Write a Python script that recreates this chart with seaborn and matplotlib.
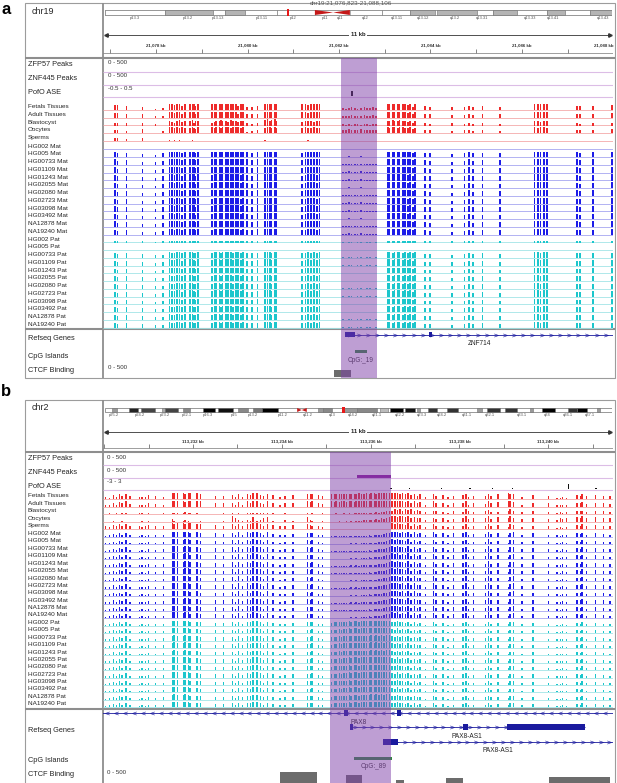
import numpy as np
import matplotlib
matplotlib.use("Agg")
import matplotlib.pyplot as plt
from matplotlib.patches import Rectangle
import seaborn as sns

W, H = 617, 783

# =========================
# SHARED TRACK NAMES
# =========================

SAMPLES = ["HG002", "HG005", "HG00733", "HG01109", "HG01243", "HG02055",
           "HG02080", "HG02723", "HG03098", "HG03492", "NA12878", "NA19240"]
TISSUE_NAMES = ["Fetals Tissues", "Adult Tissues", "Blastocyst", "Oocytes", "Sperms"]
PEAK_NAMES = ["ZFP57 Peaks", "ZNF445 Peaks", "PofO ASE"]

# =========================
# PANEL A DATA (chr19)
# =========================

A_CHROM = "chr19"
A_LOCUS = "chr19:21,076,823-21,088,106"
A_VIEW = [21076.84, 21087.99]
A_HIGHLIGHT = [21082.04, 21082.83]
A_RANGES = ["0 - 500", "0 - 500", "-0.5 - 0.5"]

A_BAND_START = [0.0, 0.118, 0.213, 0.237, 0.276, 0.339, 0.483, 0.546, 0.602, 0.655,
                0.734, 0.765, 0.813, 0.872, 0.907, 0.957]
A_BAND_END = [0.118, 0.213, 0.237, 0.276, 0.339, 0.414, 0.546, 0.602, 0.651, 0.734,
              0.765, 0.813, 0.872, 0.907, 0.957, 1.0]
A_BAND_SHADE = ["#ffffff", "#b4b4b4", "#ffffff", "#b4b4b4", "#ffffff", "#ffffff",
                "#ffffff", "#ffffff", "#b4b4b4", "#b4b4b4", "#ffffff", "#b4b4b4",
                "#ffffff", "#b4b4b4", "#ffffff", "#b4b4b4"]
A_CENTROMERE = [0.414, 0.450, 0.483]
A_VIEW_MARK = [0.359, 0.363]
A_BAND_NAMES = ["p13.3", "p13.2", "p13.13", "p13.11", "p12", "p11", "q11", "q12",
                "q13.11", "q13.12", "q13.2", "q13.31", "q13.33", "q13.41", "q13.43"]
A_BAND_POS = [0.059, 0.164, 0.223, 0.310, 0.371, 0.434, 0.464, 0.513,
              0.576, 0.627, 0.690, 0.744, 0.838, 0.884, 0.982]

A_SITES = [
    21077.10, 21077.15, 21077.36, 21077.71, 21077.98, 21078.15,
    21078.30, 21078.35, 21078.41, 21078.46, 21078.52, 21078.57, 21078.63,
    21078.74, 21078.79, 21078.83, 21078.87, 21078.92,
    21079.22, 21079.27, 21079.31, 21079.38, 21079.42, 21079.46, 21079.53,
    21079.57, 21079.64, 21079.68, 21079.75, 21079.79, 21079.86, 21079.90,
    21079.99, 21080.10, 21080.21,
    21080.38, 21080.43, 21080.49, 21080.53, 21080.60, 21080.64,
    21081.19, 21081.26, 21081.32, 21081.39, 21081.45, 21081.52, 21081.58,
    21082.09, 21082.15, 21082.22, 21082.28, 21082.35, 21082.41, 21082.48,
    21082.55, 21082.61, 21082.68, 21082.74, 21082.81,
    21083.07, 21083.11, 21083.18, 21083.22, 21083.29, 21083.33, 21083.40,
    21083.44, 21083.51, 21083.55, 21083.62, 21083.66,
    21083.88, 21083.99, 21084.47, 21084.75, 21084.84, 21084.93, 21085.13, 21085.52,
    21086.28, 21086.35, 21086.41, 21086.48, 21086.55,
    21087.20, 21087.27, 21087.55, 21087.97,
]
# methylation levels, 0 (none) to 9 (full)
A_TISSUE = [
    7, 7, 6, 5, 2, 3,
    9, 9, 7, 9, 9, 6, 9,
    9, 9, 9, 6, 9,
    9, 9, 8, 9, 9, 9, 9, 9, 9, 9, 9, 6, 9, 9,
    5, 5, 6,
    9, 9, 9, 9, 9, 9,
    9, 9, 7, 9, 9, 8, 9,
    3, 2, 3, 4, 3, 2, 3, 4, 3, 3, 4, 3,
    9, 9, 9, 9, 9, 8, 9, 9, 7, 9, 5, 9,
    6, 5, 4, 4, 6, 4, 6, 5,
    9, 9, 9, 9, 9,
    6, 6, 6, 7,
]
A_BLAST = [
    4, 3, 3, 3, 2, 0,
    6, 5, 4, 7, 8, 5, 6,
    7, 8, 4, 6, 7,
    4, 5, 6, 7, 8, 6, 7, 5, 8, 7, 6, 5, 7, 6,
    3, 2, 3,
    8, 9, 7, 8, 9, 7,
    5, 6, 7, 6, 5, 7, 6,
    2, 1, 2, 1, 2, 2, 1, 2, 2, 1, 2, 2,
    6, 7, 8, 7, 6, 8, 7, 6, 5, 7, 4, 6,
    3, 2, 3, 2, 4, 2, 3, 2,
    6, 7, 5, 6, 7,
    3, 2, 3, 4,
]
A_OOCYTE = [
    5, 4, 3, 6, 0, 3,
    9, 9, 8, 9, 8, 9, 7,
    7, 9, 8, 6, 9,
    9, 8, 9, 9, 8, 9, 9, 9, 8, 9, 9, 9, 8, 9,
    2, 3, 4,
    8, 9, 9, 8, 9, 7,
    8, 9, 7, 8, 9, 8, 7,
    5, 4, 6, 5, 4, 5, 6, 5, 4, 5, 5, 4,
    9, 8, 9, 9, 8, 9, 9, 8, 7, 9, 6, 8,
    5, 4, 3, 4, 5, 3, 4, 3,
    9, 8, 9, 9, 8,
    5, 4, 5, 6,
]
A_SPERM = [
    5, 4, 3, 4, 0, 0,
    1, 0, 1, 0, 1, 0, 0,
    0, 1, 0, 0, 0,
    0, 0, 0, 0, 0, 0, 0, 0, 0, 0, 0, 0, 0, 0,
    0, 0, 0,
    1, 0, 0, 0, 0, 0,
    0, 0, 1, 0, 0, 0, 0,
    0, 0, 0, 0, 0, 0, 0, 0, 0, 0, 0, 0,
    0, 0, 0, 0, 0, 0, 0, 0, 0, 0, 0, 0,
    0, 0, 0, 0, 0, 0, 0, 0,
    0, 0, 0, 0, 0,
    0, 0, 0, 0,
]
A_MAT = [
    8, 6, 7, 5, 4, 6,
    9, 9, 8, 9, 9, 7, 9,
    9, 9, 9, 7, 9,
    8, 9, 9, 9, 9, 9, 9, 9, 9, 9, 9, 9, 8, 9,
    8, 7, 9,
    9, 9, 9, 9, 9, 9,
    7, 8, 9, 9, 9, 8, 9,
    1, 1, 2, 1, 1, 1, 2, 1, 1, 1, 1, 1,
    9, 9, 9, 9, 9, 9, 9, 9, 8, 9, 7, 9,
    7, 6, 5, 6, 8, 6, 7, 7,
    9, 9, 9, 9, 9,
    8, 7, 8, 9,
]
A_PAT = [
    7, 6, 7, 6, 4, 5,
    9, 8, 8, 9, 9, 7, 9,
    9, 9, 8, 7, 9,
    8, 9, 9, 9, 8, 9, 9, 9, 9, 8, 9, 9, 8, 9,
    7, 7, 8,
    9, 9, 9, 8, 9, 9,
    7, 8, 9, 8, 9, 8, 9,
    1, 0, 1, 1, 0, 1, 1, 0, 1, 1, 0, 1,
    9, 9, 8, 9, 9, 9, 8, 9, 8, 9, 7, 9,
    6, 6, 5, 6, 7, 6, 7, 6,
    9, 9, 8, 9, 9,
    7, 7, 8, 8,
]
A_MAT_SCALE = [0, 0.9, 1, 0.95, 1, 0.95, 1, 0.9, 1, 0.95, 1, 0.9]
A_PAT_SCALE = [0.3, 0, 0.95, 1, 0.9, 1, 0.95, 1, 0.9, 1, 0.95, 0.9]

A_ZNF445_START, A_ZNF445_END, A_ZNF445_VAL = [], [], []
A_ASE_POS = [21082.28]
A_ASE_VAL = [0.45]

A_GENE_NAMES = ["ZNF714"]
A_GENE_START = [21082.13]
A_GENE_END = [21090.0]
A_GENE_STRAND = ["+"]
A_GENE_LABEL_X = [21085.08]
A_EXON_GENE = [0, 0]
A_EXON_START = [21082.13, 21083.97]
A_EXON_END = [21082.35, 21084.03]

A_CPG_NAMES = ["CpG:_19"]
A_CPG_START = [21082.35]
A_CPG_END = [21082.61]
A_CTCF_START = [21081.89]
A_CTCF_END = [21082.26]
A_CTCF_VAL = [250]

# =========================
# PANEL B DATA (chr2)
# =========================

B_CHROM = "chr2"
B_VIEW = [113229.97, 113241.46]
B_HIGHLIGHT = [113235.09, 113236.46]
B_RANGES = ["0 - 500", "0 - 500", "-3 - 3"]

B_BAND_START = [0.014, 0.047, 0.071, 0.112, 0.118, 0.154, 0.193, 0.223, 0.262, 0.292,
                0.310, 0.420, 0.430, 0.473, 0.497, 0.542, 0.562, 0.592, 0.615, 0.637,
                0.675, 0.734, 0.753, 0.789, 0.838, 0.862, 0.913, 0.931, 0.970]
B_BAND_END = [0.024, 0.065, 0.099, 0.118, 0.144, 0.168, 0.217, 0.252, 0.282, 0.310,
              0.341, 0.430, 0.448, 0.497, 0.536, 0.558, 0.588, 0.611, 0.621, 0.655,
              0.696, 0.744, 0.779, 0.813, 0.844, 0.888, 0.931, 0.951, 0.976]
B_BAND_SHADE = ["#999999", "#222222", "#444444", "#aaaaaa", "#444444", "#888888",
                "#000000", "#111111", "#888888", "#777777", "#000000", "#999999",
                "#888888", "#999999", "#888888", "#bbbbbb", "#000000", "#111111",
                "#999999", "#333333", "#333333", "#999999", "#333333", "#333333",
                "#999999", "#000000", "#333333", "#000000", "#999999"]
B_CENTROMERE = [0.379, 0.388, 0.398]
B_VIEW_MARK = [0.467, 0.473]
B_BAND_NAMES = ["p25.2", "p24.2", "p23.2", "p22.1", "p16.3", "p15", "p13.2", "p11.2",
                "q11.2", "q13", "q14.2", "q21.1", "q22.2", "q23.3", "q24.2", "q31.1",
                "q32.1", "q33.1", "q34", "q36.1", "q37.1"]
B_BAND_POS = [0.018, 0.069, 0.118, 0.162, 0.203, 0.254, 0.292, 0.351,
              0.400, 0.448, 0.489, 0.536, 0.582, 0.625, 0.665, 0.714,
              0.759, 0.822, 0.872, 0.913, 0.957]

B_SITES = [
    113230.02, 113230.11, 113230.20, 113230.27, 113230.34, 113230.40, 113230.49, 113230.58,
    113230.79, 113230.85, 113230.92, 113230.99,
    113231.15, 113231.33,
    113231.53, 113231.57, 113231.64,
    113231.78, 113231.82, 113231.89, 113231.93,
    113232.09, 113232.16,
    113232.50, 113232.68,
    113232.88, 113232.95, 113233.02, 113233.11,
    113233.22, 113233.29, 113233.35, 113233.44, 113233.51, 113233.58, 113233.67,
    113233.80, 113233.96, 113234.07, 113234.25,
    113234.57, 113234.64, 113234.68, 113234.82, 113234.91,
    113235.11, 113235.18, 113235.22, 113235.29, 113235.34, 113235.40, 113235.45, 113235.52,
    113235.56, 113235.63, 113235.67, 113235.74, 113235.79, 113235.85, 113235.90, 113235.97,
    113236.01, 113236.08, 113236.12, 113236.19, 113236.24, 113236.30, 113236.35, 113236.42,
    113236.48, 113236.55, 113236.60, 113236.66, 113236.71, 113236.78, 113236.84, 113236.91,
    113236.98, 113237.05, 113237.11,
    113237.23, 113237.41, 113237.47, 113237.63, 113237.74, 113237.86,
    113238.08, 113238.15, 113238.20, 113238.31,
    113238.58, 113238.65, 113238.71,
    113238.87, 113239.10, 113239.14, 113239.21, 113239.41, 113239.66, 113240.00,
    113240.20, 113240.27, 113240.33, 113240.42,
    113240.65, 113240.72, 113240.76, 113240.87, 113241.06, 113241.24, 113241.39,
]
B_TISSUE = [
    3, 2, 6, 3, 7, 5, 8, 4,
    3, 3, 3, 6,
    4, 3,
    9, 9, 9,
    9, 7, 9, 9,
    9, 8,
    5, 5,
    6, 3, 7, 3,
    8, 6, 9, 9, 6, 4, 8,
    6, 3, 5, 6,
    8, 7, 8, 6, 4,
    8, 7, 8, 7, 8, 8, 7, 8, 8, 7, 8, 9, 8, 8, 9, 8, 9, 9, 8, 9, 9, 9, 9, 9,
    9, 9, 9, 8, 9, 7, 9, 6, 8, 5, 7,
    3, 8, 5, 6, 3, 5,
    6, 8, 3, 5,
    4, 8, 5,
    7, 9, 8, 7, 3, 6, 5,
    2, 2, 3, 2,
    6, 5, 7, 4, 6, 5, 4,
]
B_BLAST = [
    0, 1, 0, 1, 0, 1, 1, 0,
    1, 1, 0, 1,
    0, 2,
    2, 1, 2,
    2, 3, 1, 2,
    1, 0,
    0, 1,
    1, 0, 1, 0,
    1, 2, 1, 2, 1, 1, 2,
    1, 0, 1, 0,
    1, 0, 1, 0, 1,
    0, 0, 1, 0, 0, 1, 0, 1, 0, 1, 1, 1, 1, 2, 1, 2, 2, 2, 3, 2, 3, 3, 4, 4,
    5, 7, 6, 8, 5, 7, 6, 8, 5, 6, 4,
    3, 5, 4, 3, 2, 4,
    3, 7, 4, 3,
    5, 6, 3,
    3, 5, 7, 4, 3, 4, 3,
    2, 3, 2, 3,
    4, 5, 4, 3, 5, 4, 3,
]
B_OOCYTE = [
    0, 0, 1, 0, 0, 1, 0, 0,
    0, 1, 0, 1,
    0, 0,
    4, 1, 0,
    1, 2, 1, 0,
    0, 1,
    0, 1,
    8, 5, 2, 1,
    2, 1, 7, 1, 2, 6, 7,
    1, 0, 2, 1,
    7, 2, 1, 0, 1,
    0, 0, 0, 1, 0, 0, 1, 0, 1, 0, 1, 1, 1, 2, 2, 2, 3, 3, 4, 3, 5, 4, 6, 7,
    8, 9, 7, 8, 9, 7, 8, 6, 7, 5, 6,
    3, 6, 4, 5, 3, 4,
    5, 8, 4, 5,
    6, 8, 4,
    7, 5, 8, 6, 4, 5, 4,
    3, 5, 4, 6,
    7, 6, 8, 5, 7, 6, 5,
]
B_SPERM = [
    5, 3, 6, 4, 7, 5, 8, 4,
    4, 3, 5, 6,
    5, 4,
    9, 8, 9,
    9, 8, 9, 9,
    8, 7,
    6, 5,
    7, 4, 8, 5,
    8, 7, 9, 9, 7, 5, 8,
    6, 4, 5, 6,
    7, 6, 5, 4, 3,
    0, 0, 0, 0, 0, 0, 0, 0, 0, 0, 0, 0, 0, 0, 0, 0, 0, 0, 0, 0, 0, 0, 0, 0,
    9, 8, 9, 7, 8, 6, 9, 5, 7, 4, 6,
    3, 7, 4, 5, 3, 4,
    5, 7, 3, 4,
    4, 7, 4,
    6, 3, 7, 6, 3, 5, 4,
    2, 3, 2, 3,
    6, 5, 7, 4, 6, 5, 4,
]
B_MAT = [
    2, 3, 5, 3, 6, 4, 7, 3,
    2, 3, 2, 4,
    3, 4,
    9, 9, 9,
    8, 9, 9, 7,
    8, 6,
    6, 5,
    7, 3, 8, 4,
    8, 6, 9, 8, 7, 4, 8,
    5, 3, 4, 5,
    7, 6, 7, 4, 3,
    1, 1, 1, 1, 1, 1, 1, 1, 2, 1, 2, 1, 2, 2, 2, 3, 2, 3, 3, 4, 4, 5, 6, 7,
    9, 8, 9, 7, 8, 6, 9, 5, 8, 5, 6,
    3, 8, 5, 6, 3, 6,
    6, 8, 3, 5,
    5, 9, 5,
    6, 3, 7, 8, 4, 6, 4,
    3, 2, 4, 3,
    6, 5, 7, 4, 6, 5, 4,
]
B_PAT = [
    2, 3, 5, 3, 6, 4, 7, 3,
    2, 3, 2, 4,
    3, 4,
    8, 9, 8,
    8, 9, 8, 7,
    7, 6,
    5, 5,
    6, 3, 7, 4,
    7, 6, 8, 8, 7, 4, 7,
    5, 3, 4, 5,
    6, 6, 7, 4, 3,
    5, 6, 6, 7, 6, 7, 7, 8, 7, 8, 8, 7, 8, 8, 8, 8, 9, 8, 9, 8, 9, 8, 9, 9,
    7, 6, 8, 6, 7, 5, 7, 4, 6, 4, 5,
    2, 6, 4, 5, 2, 4,
    5, 7, 3, 4,
    4, 7, 4,
    5, 3, 6, 6, 3, 5, 3,
    2, 2, 3, 2,
    5, 4, 6, 3, 5, 4, 3,
]
B_MAT_SCALE = [0.9, 0.85, 0.95, 1, 0.9, 1, 0.95, 1, 0.9, 0.95, 0.9, 1]
B_PAT_SCALE = [0.85, 0.9, 0.95, 1, 0.9, 1, 0.95, 1, 0.9, 0.95, 0.9, 0.95]

B_ZNF445_START = [113235.70]
B_ZNF445_END = [113236.46]
B_ZNF445_VAL = [90]
B_ASE_POS = [113236.46, 113236.87, 113237.59, 113238.24, 113238.74, 113239.19, 113240.45, 113241.08]
B_ASE_VAL = [0.4, 0.3, 0.3, 0.3, 0.3, 0.3, 1.6, 0.3]

B_GENE_NAMES = ["PAX8", "PAX8-AS1", "PAX8-AS1"]
B_GENE_START = [113229.0, 113235.54, 113236.28]
B_GENE_END = [113242.0, 113240.83, 113242.0]
B_GENE_STRAND = ["-", "+", "+"]
B_GENE_LABEL_X = [113235.72, 113238.17, 113238.87]
B_EXON_GENE = [0, 0, 1, 1, 1, 2]
B_EXON_START = [113235.40, 113236.60, 113235.54, 113238.08, 113239.07, 113236.28]
B_EXON_END = [113235.49, 113236.69, 113235.60, 113238.20, 113240.83, 113236.62]

B_CPG_NAMES = ["CpG:_89"]
B_CPG_START = [113235.63]
B_CPG_END = [113236.48]
B_CTCF_START = [113233.96, 113235.45, 113236.57, 113237.70, 113240.02]
B_CTCF_END = [113234.79, 113235.81, 113236.75, 113238.08, 113241.39]
B_CTCF_VAL = [430, 320, 140, 215, 250]

# =========================
# STYLE / LAYOUT (pixel rows)
# =========================

RED, RED_LINE = "#ee2a2a", "#f4aaaa"
BLUE, BLUE_LINE = "#1c1ce8", "#a6a6f0"
CYAN, CYAN_LINE = "#1cc6cc", "#a2e4e6"
PEAK_LINE = "#dcbde6"
HILITE = "#7f3fa8"
GENE = "#1a1a9e"
CPG = "#2f8a3c"
CTCF = "#6c6c6c"
FRAME = "#9c9c9c"
TEXT = "#262626"
BAR_W = 0.028
SIGNAL_PX = 14 / 500

LAYOUT_A = dict(letter="a", letter_y=10, top=3, bottom=378, header=58, sep=329,
                chrom_y=12, ideo=(8, 21, 10, 15, 18), kb_y=35, ruler=(45, 49, 53),
                peaks=[(65, 62.5, 72), (78, 75.5, 85), (92, 89, 97)],
                red_base=110, red_step=7.75, mp_base=149.5, mp_step=7.75, bar_max=6.3,
                gene_label=339, gene_rows=[335], gene_label_y=[344], exon_h=5,
                cpg=(356, 352, 361), ctcf=(371, 368, 377), ase_scale=11)
LAYOUT_B = dict(letter="b", letter_y=392, top=400, bottom=784, header=452, sep=709,
                chrom_y=407, ideo=(405, 418, 408, 412, 415), kb_y=432, ruler=(441, 444, 448),
                peaks=[(459, 457.5, 465), (472, 470.5, 478), (486, 481.5, 490)],
                red_base=499, red_step=7.5, mp_base=537, mp_step=7.4, bar_max=6.0,
                gene_label=731, gene_rows=[713, 727, 742], gene_label_y=[722, 736, 750], exon_h=6,
                cpg=(761, 758, 766), ctcf=(775, 773, 784), ase_scale=3.3)

sns.set_theme(style="white")
plt.rcParams["font.family"] = ["Liberation Sans", "DejaVu Sans"]

fig = plt.figure(figsize=(W / 100, H / 100), dpi=100)
canvas = fig.add_axes([0, 0, 1, 1], zorder=0)
canvas.set_xlim(0, W)
canvas.set_ylim(H, 0)
canvas.set_axis_off()


def px_axes(x0, y0, x1, y1, z=2):
    ax = fig.add_axes([x0 / W, 1 - y1 / H, (x1 - x0) / W, (y1 - y0) / H], zorder=z)
    ax.set_ylim(y1, y0)
    ax.set_axis_off()
    return ax


def draw_panel(L, P):
    v0, v1 = P["view"]
    top, bottom = L["top"], L["bottom"]

    # frame and name column
    canvas.text(1, L["letter_y"], L["letter"], fontsize=12, fontweight="bold",
                ha="left", va="center", color="black")
    canvas.add_patch(Rectangle((25, top), 590, bottom - top, fill=False, ec=FRAME, lw=0.8))
    canvas.vlines(102.5, top, bottom, color="#8e8e8e", lw=1.3)
    canvas.hlines([L["header"], L["sep"]], 25, 615, color="#8e8e8e", lw=1.5)
    canvas.text(32, L["chrom_y"], P["chrom"], fontsize=6.5, color=TEXT, va="center")

    # ideogram
    iy0, iy1, by0, by1, ly = L["ideo"]
    ia = px_axes(105, iy0, 612, iy1)
    ia.set_xlim(0, 1)
    bs = np.array(P["band_start"])
    be = np.array(P["band_end"])
    ia.add_patch(Rectangle((0, by0), 1, by1 - by0, fc="white", ec="#707070", lw=0.5))
    ia.bar(bs, by1 - by0, bottom=by0, width=be - bs, align="edge",
           color=P["band_shade"], edgecolor="#707070", linewidth=0.4)
    cs, cm, ce = P["cen"]
    ym = (by0 + by1) / 2
    ia.fill([cs, cs, cm], [by0, by1, ym], color="#c41818", lw=0)
    ia.fill([ce, ce, cm], [by0, by1, ym], color="#c41818", lw=0)
    ms, me = P["view_mark"]
    ia.bar(ms, by1 - by0 + 2, bottom=by0 - 1, width=me - ms, align="edge",
           color="#e81818", linewidth=0)
    for name, pos in zip(P["band_names"], P["band_pos"]):
        ia.text(pos, ly, name, fontsize=3, ha="center", va="center", color="#555555")

    # ruler
    ha = px_axes(103, top, 613, L["header"])
    ha.set_xlim(v0, v1)
    ky = L["kb_y"]
    ha.hlines(ky, v0 + 0.05, v1 - 0.05, color="#333333", lw=0.6)
    ha.plot([v0 + 0.07], [ky], marker="<", ms=2.5, color="#333333")
    ha.plot([v1 - 0.07], [ky], marker=">", ms=2.5, color="#333333")
    ha.text((v0 + v1) / 2, ky, f"{v1 - v0:.0f} kb", fontsize=4.2, fontweight="bold",
            ha="center", va="center", color="#222222",
            bbox=dict(fc="white", ec="none", pad=1.5))
    rl, t0, t1 = L["ruler"]
    ticks = np.arange(np.ceil(v0), np.floor(v1) + 1)
    ha.vlines(ticks, t0, t1, color="#555555", lw=0.5)
    ha.hlines(t1, v0, v1, color="#777777", lw=0.5)
    for k in np.arange(np.ceil(v0), np.floor(v1) + 2):
        if k % 2 == 0 and k - v0 > 0.5 and k < v1 + 0.05:
            edge = v1 - k < 0.3
            ha.text(min(k, v1), rl, f"{int(k):,} kb", fontsize=3.2, fontweight="bold",
                    ha="right" if edge else "center", va="center", color="#333333")

    # data area
    da = px_axes(103, L["header"], 613, bottom, z=3)
    da.set_xlim(v0, v1)

    for name, rng, (lab_y, rng_y, line_y) in zip(PEAK_NAMES, P["ranges"], L["peaks"]):
        canvas.text(28, lab_y, name, fontsize=5.3, color=TEXT, va="center")
        da.text(v0 + 0.1, rng_y, rng, fontsize=4.4, color="#333333", va="center")
        da.hlines(line_y, v0, v1, color=PEAK_LINE, lw=0.8)

    zs = np.array(P["znf_start"], dtype=float)
    ze = np.array(P["znf_end"], dtype=float)
    zv = np.array(P["znf_val"], dtype=float)
    if len(zs):
        da.bar(zs, -zv * SIGNAL_PX, bottom=L["peaks"][1][2], width=ze - zs,
               align="edge", color="#8b1a9b", linewidth=0)
    da.bar(P["ase_pos"], -np.array(P["ase_val"]) * L["ase_scale"],
           bottom=L["peaks"][2][2] - 1, width=0.03, color="#111111", linewidth=0)

    # methylation tracks
    rows = []
    tissue_rows = [P["tissue"], P["tissue"], P["blast"], P["oocyte"], P["sperm"]]
    tissue_scale = [1.0, 0.95, 1.0, 1.0, 1.0]
    for i, name in enumerate(TISSUE_NAMES):
        rows.append((name, L["red_base"] + i * L["red_step"], tissue_rows[i],
                     tissue_scale[i], RED, RED_LINE))
    for i, smp in enumerate(SAMPLES):
        rows.append((smp + " Mat", L["mp_base"] + i * L["mp_step"], P["mat"],
                     P["mat_scale"][i], BLUE, BLUE_LINE))
    for i, smp in enumerate(SAMPLES):
        rows.append((smp + " Pat", L["mp_base"] + (12 + i) * L["mp_step"], P["pat"],
                     P["pat_scale"][i], CYAN, CYAN_LINE))

    sites = np.array(P["sites"])
    for name, base, levels, scale, col, lcol in rows:
        canvas.text(28, base - 3.4, name, fontsize=4.6, color=TEXT, va="center")
        da.hlines(base, v0, v1, color=lcol, lw=0.6, zorder=1)
        hp = np.minimum(np.array(levels) / 9 * L["bar_max"] * scale, L["bar_max"])
        keep = hp > 0
        da.bar(sites[keep], -hp[keep], bottom=base, width=BAR_W, color=col,
               linewidth=0, zorder=2)

    # genes
    canvas.text(28, L["gene_label"], "Refseq Genes", fontsize=5.3, color=TEXT, va="center")
    for gi, name in enumerate(P["gene_names"]):
        y = L["gene_rows"][gi]
        gs, ge = P["gene_start"][gi], P["gene_end"][gi]
        da.hlines(y, gs, ge, color=GENE, lw=0.6)
        arrows = np.arange(max(gs, v0) + 0.1, min(ge, v1), 0.2)
        mk = "$>$" if P["gene_strand"][gi] == "+" else "$<$"
        sns.scatterplot(x=arrows, y=np.full(len(arrows), y), marker=mk, s=10,
                        color=GENE, linewidth=0, ax=da, legend=False)
        da.text(P["gene_label_x"][gi], L["gene_label_y"][gi], name, fontsize=4.7,
                ha="center", va="center", color="#222222")
    es = np.array(P["exon_start"])
    ee = np.array(P["exon_end"])
    ey = np.array([L["gene_rows"][g] for g in P["exon_gene"]])
    eh = L["exon_h"]
    da.bar(es, eh, bottom=ey - eh / 2, width=ee - es, align="edge", color=GENE, linewidth=0)

    # CpG islands
    cl, cb, ct = L["cpg"]
    canvas.text(28, cl, "CpG Islands", fontsize=5.3, color=TEXT, va="center")
    cs_ = np.array(P["cpg_start"])
    ce_ = np.array(P["cpg_end"])
    da.bar(cs_, 3, bottom=cb - 1.5, width=ce_ - cs_, align="edge", color=CPG, linewidth=0)
    for name, s, e in zip(P["cpg_names"], cs_, ce_):
        da.text((s + e) / 2, ct, name, fontsize=4.7, ha="center", va="center", color="#3a3a3a")

    # CTCF binding
    tl, tr, tb = L["ctcf"]
    canvas.text(28, tl, "CTCF Binding", fontsize=5.3, color=TEXT, va="center")
    da.text(v0 + 0.1, tr, "0 - 500", fontsize=4.4, color="#333333", va="center")
    ts = np.array(P["ctcf_start"])
    te = np.array(P["ctcf_end"])
    da.bar(ts, -np.array(P["ctcf_val"]) * SIGNAL_PX, bottom=tb, width=te - ts,
           align="edge", color=CTCF, linewidth=0)

    # region of interest
    da.axvspan(P["highlight"][0], P["highlight"][1], color=HILITE, alpha=0.5, lw=0, zorder=20)


panel_a = dict(chrom=A_CHROM, view=A_VIEW, highlight=A_HIGHLIGHT, ranges=A_RANGES,
               band_start=A_BAND_START, band_end=A_BAND_END, band_shade=A_BAND_SHADE,
               cen=A_CENTROMERE, view_mark=A_VIEW_MARK, band_names=A_BAND_NAMES,
               band_pos=A_BAND_POS, sites=A_SITES, tissue=A_TISSUE, blast=A_BLAST,
               oocyte=A_OOCYTE, sperm=A_SPERM, mat=A_MAT, pat=A_PAT,
               mat_scale=A_MAT_SCALE, pat_scale=A_PAT_SCALE,
               znf_start=A_ZNF445_START, znf_end=A_ZNF445_END, znf_val=A_ZNF445_VAL,
               ase_pos=A_ASE_POS, ase_val=A_ASE_VAL,
               gene_names=A_GENE_NAMES, gene_start=A_GENE_START, gene_end=A_GENE_END,
               gene_strand=A_GENE_STRAND, gene_label_x=A_GENE_LABEL_X,
               exon_gene=A_EXON_GENE, exon_start=A_EXON_START, exon_end=A_EXON_END,
               cpg_names=A_CPG_NAMES, cpg_start=A_CPG_START, cpg_end=A_CPG_END,
               ctcf_start=A_CTCF_START, ctcf_end=A_CTCF_END, ctcf_val=A_CTCF_VAL)
panel_b = dict(chrom=B_CHROM, view=B_VIEW, highlight=B_HIGHLIGHT, ranges=B_RANGES,
               band_start=B_BAND_START, band_end=B_BAND_END, band_shade=B_BAND_SHADE,
               cen=B_CENTROMERE, view_mark=B_VIEW_MARK, band_names=B_BAND_NAMES,
               band_pos=B_BAND_POS, sites=B_SITES, tissue=B_TISSUE, blast=B_BLAST,
               oocyte=B_OOCYTE, sperm=B_SPERM, mat=B_MAT, pat=B_PAT,
               mat_scale=B_MAT_SCALE, pat_scale=B_PAT_SCALE,
               znf_start=B_ZNF445_START, znf_end=B_ZNF445_END, znf_val=B_ZNF445_VAL,
               ase_pos=B_ASE_POS, ase_val=B_ASE_VAL,
               gene_names=B_GENE_NAMES, gene_start=B_GENE_START, gene_end=B_GENE_END,
               gene_strand=B_GENE_STRAND, gene_label_x=B_GENE_LABEL_X,
               exon_gene=B_EXON_GENE, exon_start=B_EXON_START, exon_end=B_EXON_END,
               cpg_names=B_CPG_NAMES, cpg_start=B_CPG_START, cpg_end=B_CPG_END,
               ctcf_start=B_CTCF_START, ctcf_end=B_CTCF_END, ctcf_val=B_CTCF_VAL)

canvas.text(351, 0.3, A_LOCUS, fontsize=4.5, ha="center", va="top", color="#555555")
draw_panel(LAYOUT_A, panel_a)
draw_panel(LAYOUT_B, panel_b)

fig.savefig("out.png", dpi=100)
plt.close(fig)
